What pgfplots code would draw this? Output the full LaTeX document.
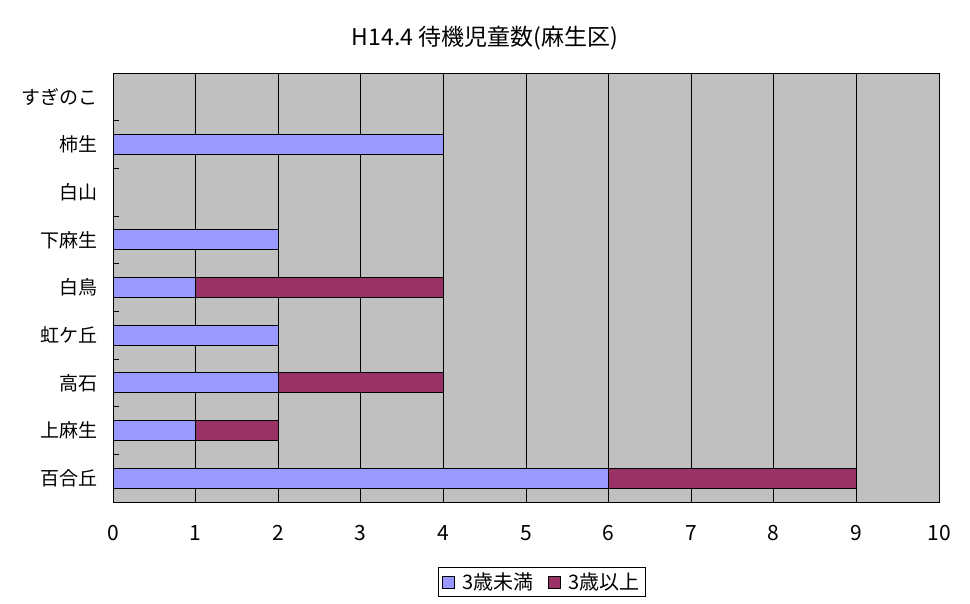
\documentclass[border=0pt]{standalone}
\usepackage{pgfplots}
\pgfplotsset{compat=1.18}
\usepackage{fontspec}
\setmainfont{Noto Sans CJK JP}
\definecolor{bgray}{HTML}{C0C0C0}
\definecolor{sblue}{HTML}{9999FF}
\definecolor{smaroon}{HTML}{993366}
\begin{document}
\begin{tikzpicture}[x=1pt,y=1pt]
\useasboundingbox (0,0) rectangle (970,604);
\node[font=\fontsize{23}{26}\selectfont] at (485,566) {H14.4 待機児童数(麻生区)};
\begin{axis}[
  at={(113pt,102pt)}, anchor=south west,
  scale only axis, width=826pt, height=429pt,
  xbar stacked, bar width=20pt,
  xmin=0, xmax=10, ymin=-0.5, ymax=8.5,
  xtick={0,...,10},
  ytick={0,...,8},
  yticklabels={百合丘,上麻生,高石,虹ケ丘,白鳥,下麻生,白山,柿生,すぎのこ},
  minor ytick={-0.5,0.5,...,8.5},
  major tick length=0pt, minor tick length=6pt,
  tick align=inside, ytick pos=left, xtick pos=bottom,
  xmajorgrids=true, major grid style={black, line width=0.8pt},
  axis background/.style={fill=bgray},
  axis line style={black, line width=0.8pt},
  tick style={black, line width=0.8pt},
  /pgf/number format/assume math mode=true,
  yticklabel style={font=\fontsize{19}{22}\selectfont, xshift=-12pt},
  xticklabel style={font=\fontsize{21}{24}\selectfont, yshift=-20pt},
  legend style={at={(0.519,-0.1865)}, anchor=center, draw=black, line width=0.8pt,
    font=\fontsize{20}{23}\selectfont, legend columns=2,
    inner xsep=4pt, inner ysep=3pt,
    /tikz/every odd column/.append style={column sep=6pt},
    /tikz/every even column/.append style={column sep=12pt}},
  legend image code/.code={\draw[#1, draw=black, line width=0.6pt] (0pt,-6pt) rectangle (12pt,6pt);},
]
\addplot[fill=sblue, draw=black, line width=0.8pt] coordinates {(6,0) (1,1) (2,2) (2,3) (1,4) (2,5) (0,6) (4,7) (0,8)};
\addplot[fill=smaroon, draw=black, line width=0.8pt] coordinates {(3,0) (1,1) (2,2) (0,3) (3,4) (0,5) (0,6) (0,7) (0,8)};
\legend{3歳未満,3歳以上}
\end{axis}
\end{tikzpicture}
\end{document}
